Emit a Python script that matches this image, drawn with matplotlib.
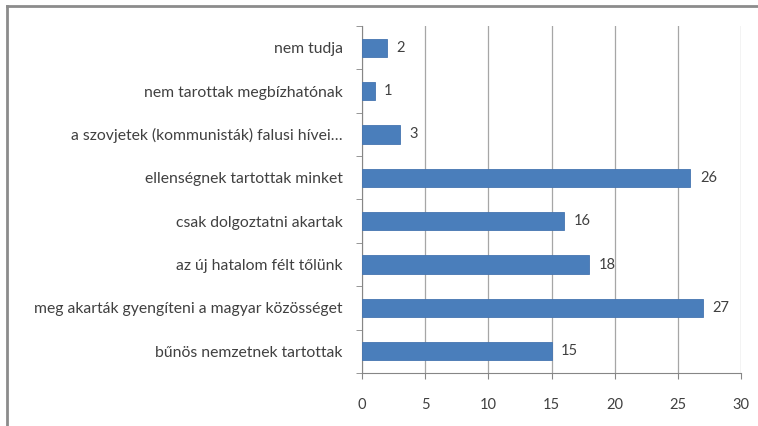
import matplotlib.pyplot as plt
from matplotlib.lines import Line2D
import numpy as np

labels = ["nem tudja",
          "nem tarottak megbízhatónak",
          "a szovjetek (kommunisták) falusi hívei…",
          "ellenségnek tartottak minket",
          "csak dolgoztatni akartak",
          "az új hatalom félt tőlünk",
          "meg akarták gyengíteni a magyar közösséget",
          "bűnös nemzetnek tartottak"]
values = [2, 1, 3, 26, 16, 18, 27, 15]
xticks = [0, 5, 10, 15, 20, 25, 30]

plt.rcParams['font.family'] = ['Lato', 'DejaVu Sans']

fig = plt.figure(figsize=(7.58, 4.26), dpi=100)
ax = fig.add_axes([0.4776, 0.1244, 0.5, 0.8146])

y = np.arange(len(labels))[::-1]
ax.barh(y, values, height=0.42, color='#4a7ebb', edgecolor='#4575b0', linewidth=0.6, zorder=3)
for yi, v in zip(y, values):
    ax.text(v + 0.75, yi, str(v), va='center', ha='left', fontsize=10.5, color='#404040')

ax.set_xlim(0, 30)
ax.set_ylim(-0.5, len(labels) - 0.5)
ax.set_xticks(xticks)
ax.set_yticks(y)
ax.set_yticklabels(labels, fontsize=11.3, color='#404040')
ax.set_yticks(np.arange(-0.5, len(labels), 1), minor=True)
ax.tick_params(axis='y', which='major', length=0, pad=14)
ax.tick_params(axis='y', which='minor', length=4, color='#868686', direction='out')
ax.tick_params(axis='x', length=4, color='#868686', labelsize=10.5, labelcolor='#404040', pad=14)
ax.grid(axis='x', color='#a6a6a6', linewidth=0.9, zorder=0)
for s in ['top', 'right']:
    ax.spines[s].set_visible(False)
for s in ['left', 'bottom']:
    ax.spines[s].set_color('#868686')

# outer frame (left and top edges of the chart box)
fig.add_artist(Line2D([0.009, 0.009], [0, 0.986], color='#8c8c8c', linewidth=2))
fig.add_artist(Line2D([0.009, 1.0], [0.986, 0.986], color='#8c8c8c', linewidth=2))

fig.savefig('out.png', dpi=100)
